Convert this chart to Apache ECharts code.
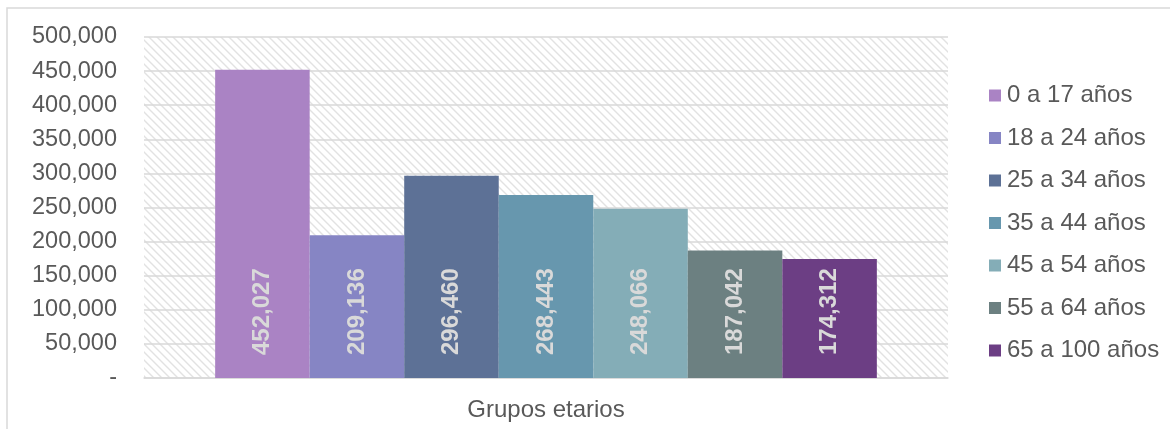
<!DOCTYPE html>
<html>
<head>
<meta charset="utf-8">
<script src="https://cdn.jsdelivr.net/npm/echarts@6/dist/echarts.min.js"></script>
<style>html,body{margin:0;padding:0;background:#fff}#c{width:1170px;height:429px}</style>
</head>
<body>
<div id="c"></div>
<script>
const categories = ['Grupos etarios'];
const seriesNames = ['0 a 17 años','18 a 24 años','25 a 34 años','35 a 44 años','45 a 54 años','55 a 64 años','65 a 100 años'];
const seriesValues = [452027, 209136, 296460, 268443, 248066, 187042, 174312];
const seriesColors = ['#AA83C4','#8685C4','#5D7196','#6797AE','#84ADB7','#6C8081','#6C3E84'];
const yTicks = [0, 50000, 100000, 150000, 200000, 250000, 300000, 350000, 400000, 450000, 500000];

function fmt(v){ return v === 0 ? '-' : v.toLocaleString('en-US'); }

// hatch pattern
const pc = document.createElement('canvas');
pc.width = 8; pc.height = 8;
const pctx = pc.getContext('2d');
pctx.fillStyle = '#ffffff'; pctx.fillRect(0,0,8,8);
pctx.strokeStyle = '#e2e2e2'; pctx.lineWidth = 1.4;
pctx.beginPath();
pctx.moveTo(-2,-2); pctx.lineTo(10,10);
pctx.moveTo(-10,-2); pctx.lineTo(2,10);
pctx.moveTo(6,-2); pctx.lineTo(18,10);
pctx.stroke();

const chart = echarts.init(document.getElementById('c'));
const font = 'Liberation Sans, Arial, sans-serif';
chart.setOption({
  animation: false,
  backgroundColor: '#fff',
  graphic: [{
    type: 'rect', shape: {x: 7, y: 8, width: 1200, height: 500},
    style: {fill: 'none', stroke: '#d9d9d9', lineWidth: 1.5}, silent: true, z: -10
  }],
  grid: {
    left: 144, right: 222, top: 37, bottom: 51,
    show: true, borderWidth: 0,
    backgroundColor: {image: pc, repeat: 'repeat'}
  },
  legend: {
    orient: 'vertical', left: 989, top: 83.5, padding: 0,
    itemWidth: 12, itemHeight: 12, itemGap: 18.5,
    icon: 'rect',
    textStyle: {fontFamily: font, fontSize: 24, color: '#595959', lineHeight: 24, padding: [0,0,0,1]},
    data: seriesNames
  },
  xAxis: {
    type: 'category', data: categories,
    axisLine: {lineStyle: {color: '#d9d9d9', width: 1.5}},
    axisTick: {show: false},
    axisLabel: {fontFamily: font, fontSize: 24, color: '#595959', margin: 20}
  },
  yAxis: {
    type: 'value', min: 0, max: 500000, interval: 50000,
    axisLine: {show: false}, axisTick: {show: false},
    splitLine: {lineStyle: {color: '#d9d9d9', width: 1.5}},
    axisLabel: {fontFamily: font, fontSize: 23.5, color: '#595959', margin: 27, formatter: fmt}
  },
  series: seriesNames.map((n, i) => ({
    name: n, type: 'bar',
    data: [seriesValues[i]],
    barGap: '0%', barCategoryGap: '17.7%',
    itemStyle: {color: seriesColors[i]},
    label: {
      show: true, position: 'insideBottom', distance: 23,
      rotate: 90, align: 'left', verticalAlign: 'middle',
      fontFamily: font, fontSize: 24, fontWeight: 'bold', color: '#d9d9d9',
      formatter: p => fmt(p.value)
    }
  }))
});
</script>
</body>
</html>
